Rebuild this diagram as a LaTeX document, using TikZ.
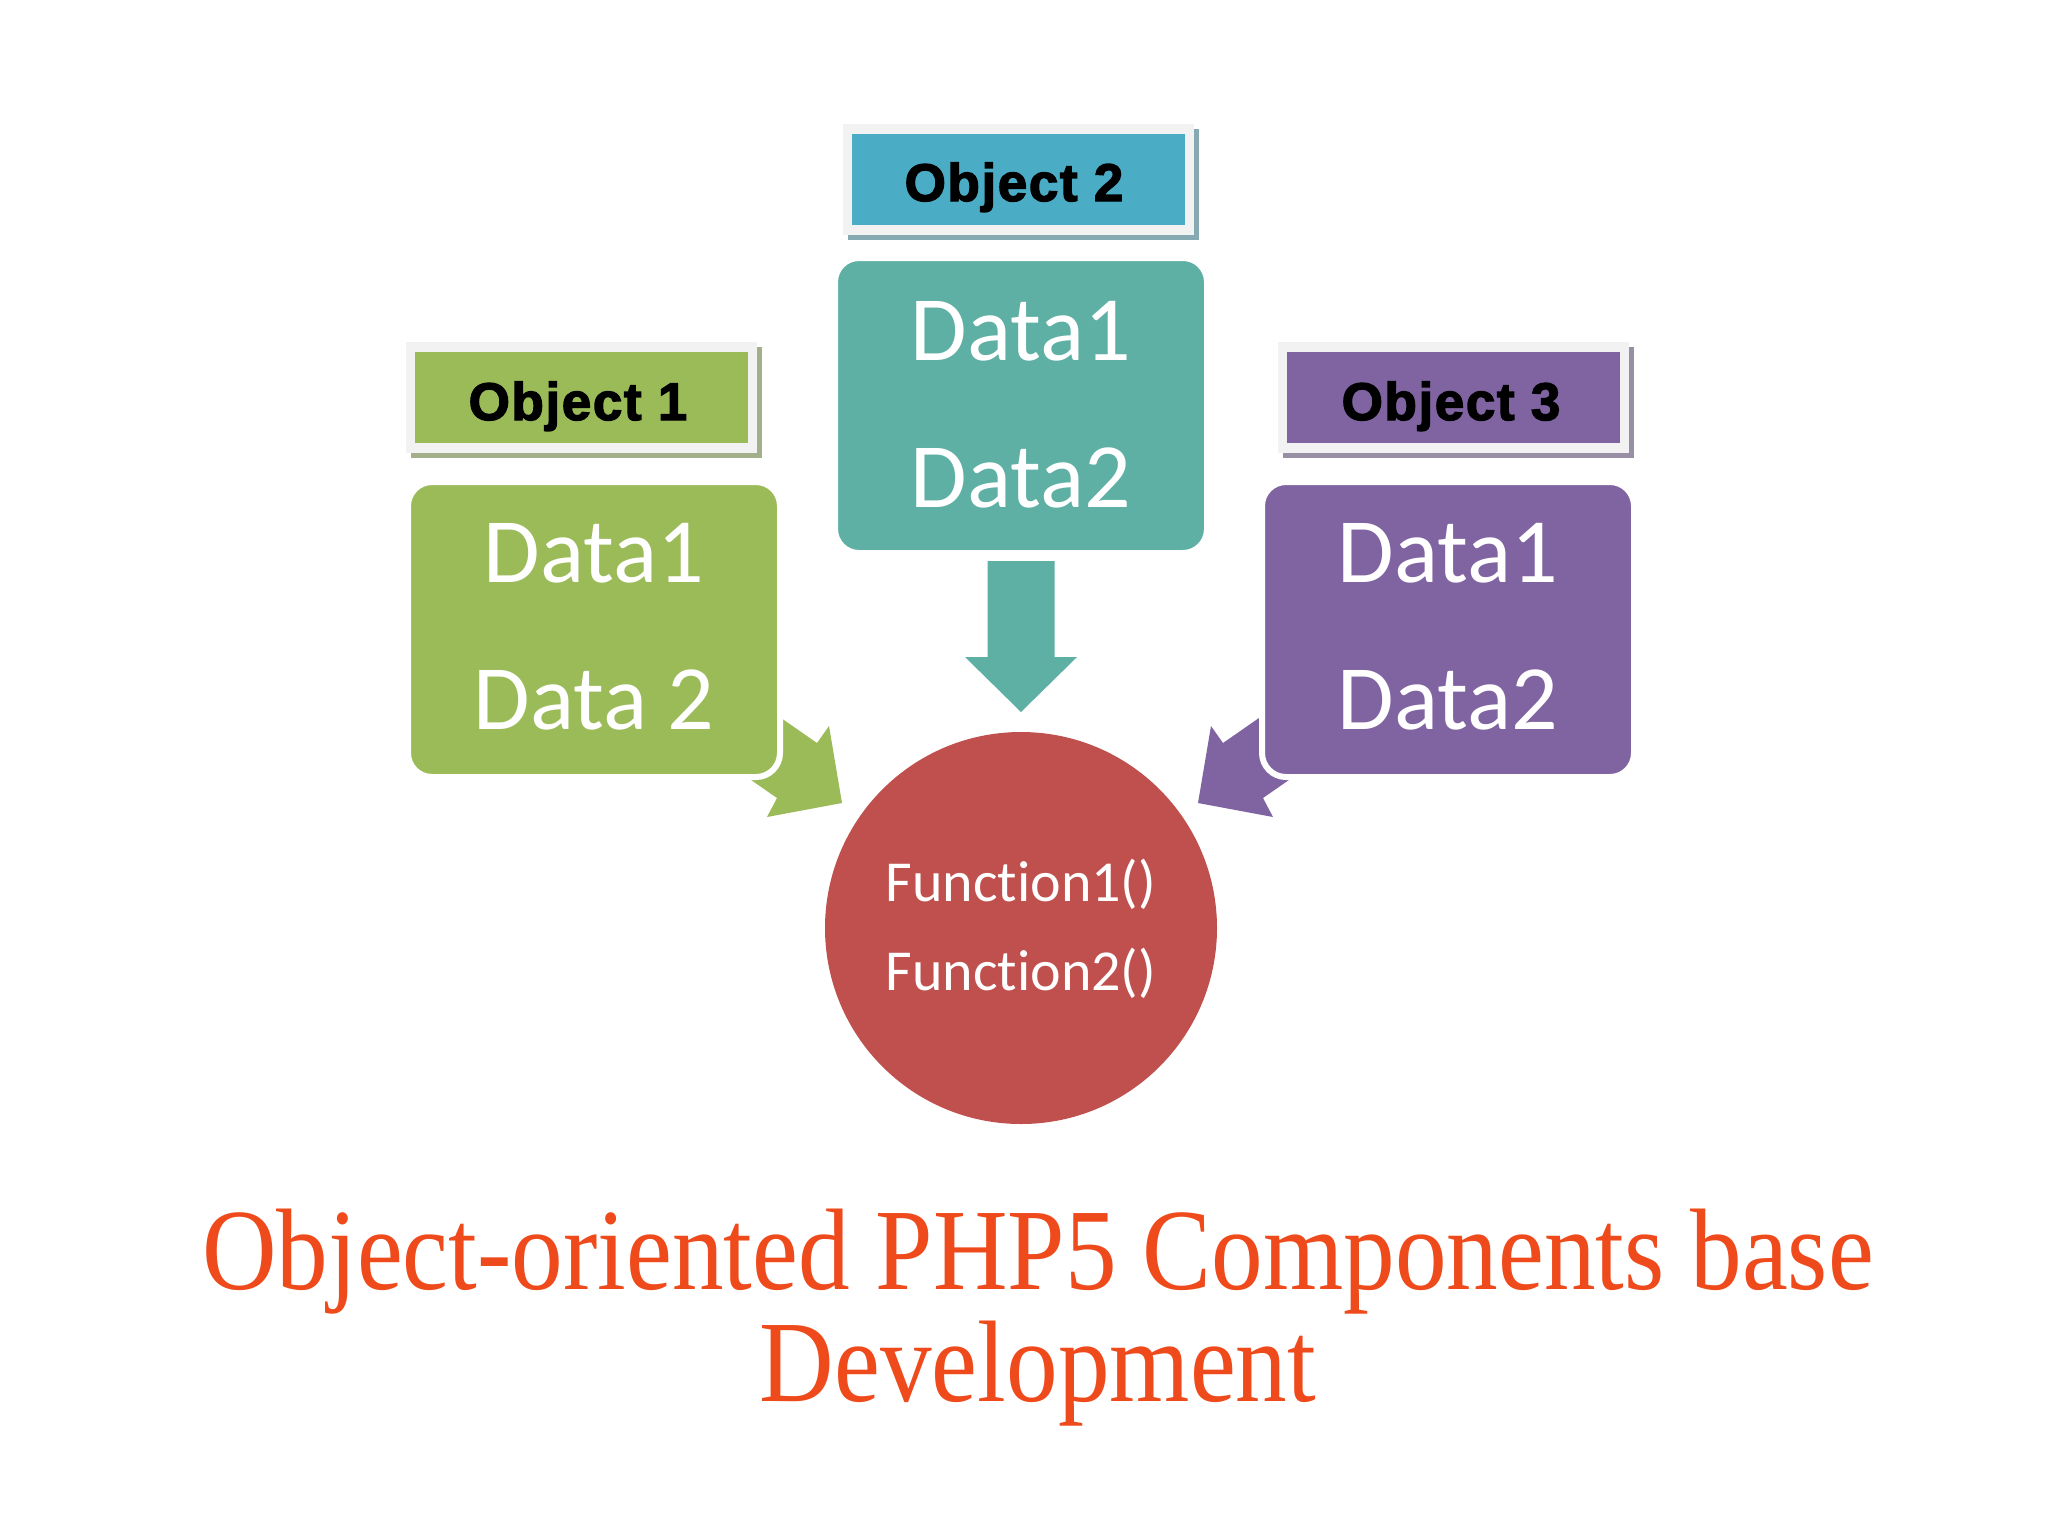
\documentclass[tikz,border=0pt]{standalone}
\usepackage{fontspec}
\usetikzlibrary{shadows}
\newfontfamily\calfont[Ligatures=NoCommon]{Carlito}
\newfontfamily\labfont[LetterSpace=3, BoldFeatures={FakeBold=2.5}]{Liberation Sans}
\newfontfamily\titfont[FakeStretch=0.89]{Liberation Serif}
\definecolor{cgreen}{HTML}{9BBB59}
\definecolor{cteal}{HTML}{5EAFA4}
\definecolor{cblue}{HTML}{4BACC6}
\definecolor{cpurple}{HTML}{8064A2}
\definecolor{cred}{HTML}{C0504D}
\definecolor{ctitle}{HTML}{EF4A1B}
\definecolor{cframe}{HTML}{F1F2F1}
\tikzset{
  databox/.style={rectangle, rounded corners=24pt, draw=white, line width=6pt,
    minimum width=372pt, minimum height=295pt, inner sep=0pt},
  labframe/.style={rectangle, fill=cframe, minimum width=351pt, minimum height=111pt,
    inner sep=0pt, drop shadow={shadow xshift=5pt, shadow yshift=-5pt, fill=#1, opacity=1}},
  labbox/.style={rectangle, minimum width=333pt, minimum height=91pt, inner sep=0pt},
  labtext/.style={anchor=base, inner sep=0pt, text=black,
    font=\labfont\bfseries\fontsize{53}{53}\selectfont},
  datatext/.style={anchor=base, inner sep=0pt, text=white, font=\calfont\fontsize{92}{92}\selectfont},
  functext/.style={anchor=base, inner sep=0pt, text=white, font=\calfont\fontsize{58}{58}\selectfont},
  titletext/.style={anchor=base, inner sep=0pt, text=ctitle, font=\titfont\fontsize{116}{116}\selectfont}
}
\begin{document}
\begin{tikzpicture}[x=1pt, y=-1pt]
\useasboundingbox (0,0) rectangle (2048,1535);
\fill[white] (0,0) rectangle (2048,1535);

% block arrows (drawn first, under the boxes)
\fill[cgreen] (735,686) -- (817,743) -- (829,726) -- (842,803) -- (767,817) -- (777,798) -- (695,741) -- cycle;
\fill[cpurple] (1305,686) -- (1223,743) -- (1211,726) -- (1198,803) -- (1273,817) -- (1263,798) -- (1345,741) -- cycle;
\fill[cteal] (987.5,561) -- (1054.5,561) -- (1054.5,657) -- (1077,657) -- (1021,712) -- (965,657) -- (987.5,657) -- cycle;

% data boxes
\node[databox, fill=cgreen]  (box1) at (594,629.5) {};
\node[databox, fill=cteal]   (box2) at (1021,405.5) {};
\node[databox, fill=cpurple] (box3) at (1448,629.5) {};

\node[datatext] (d11) at (594,582) {Data1};
\node[datatext] (d12) at (594,729) {Data 2};
\node[datatext] (d21) at (1021,360) {Data1};
\node[datatext] (d22) at (1021,507) {Data2};
\node[datatext] (d31) at (1448,582) {Data1};
\node[datatext] (d32) at (1448,729) {Data2};

% object labels
\node[labframe=cgreen!45!gray!80]  (f1) at (581.5,397.5) {};
\node[labbox, fill=cgreen] (o1) at (f1) {};
\node[labtext] (o1t) at (578,420) {Object 1};
\node[labframe=cblue!45!gray!80]   (f2) at (1018.5,179) {};
\node[labbox, fill=cblue] (o2) at (f2) {};
\node[labtext] (o2t) at (1014,201) {Object 2};
\node[labframe=cpurple!45!gray!80] (f3) at (1453.5,397.5) {};
\node[labbox, fill=cpurple] (o3) at (f3) {};
\node[labtext] (o3t) at (1451,420) {Object 3};

% functions circle
\node[circle, fill=cred, minimum size=392pt, inner sep=0pt] (fn) at (1021,928) {};
\node[functext] (fn1) at (1021,901) {Function1()};
\node[functext] (fn2) at (1021,990) {Function2()};

% title
\node[titletext] (t1) at (1038,1289) {Object-oriented PHP5 Components base};
\node[titletext] (t2) at (1038,1401) {Development};
\end{tikzpicture}
\end{document}
